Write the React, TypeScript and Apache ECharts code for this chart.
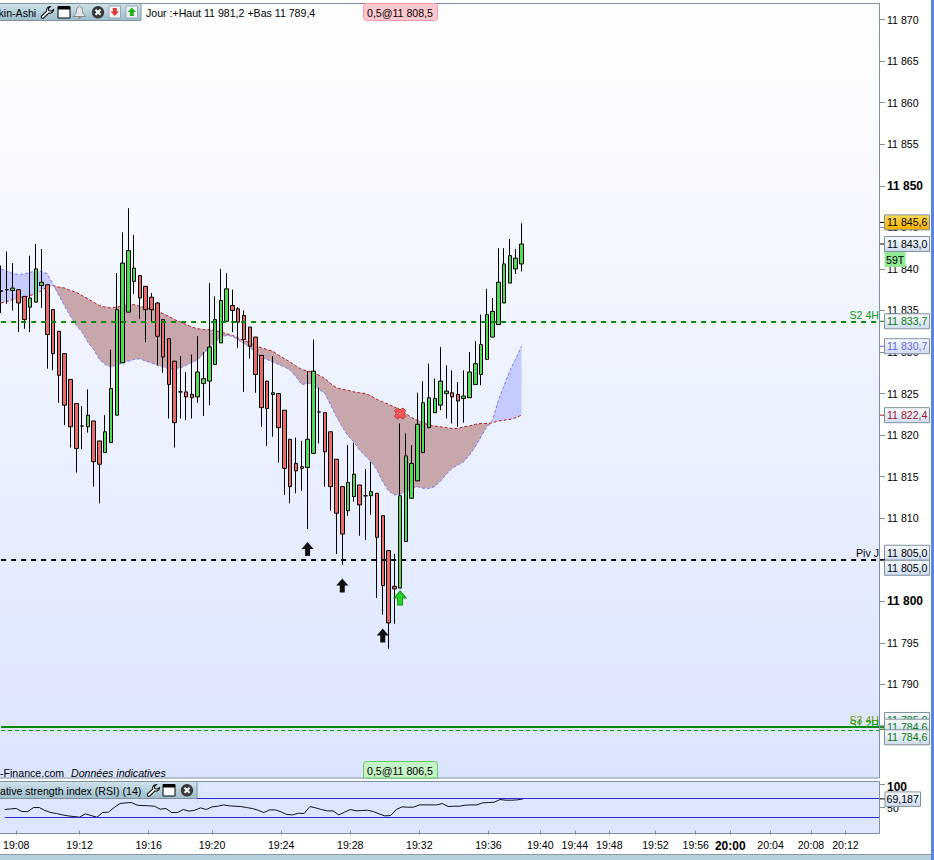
import React, { useEffect, useRef } from "react";
import * as echarts from "echarts";

const FONT = '"Liberation Sans", Arial, sans-serif';
const FS = 10.6;
const TICK_LABELS: Record<number, string> = {
  2: "19:08", 13: "19:12", 25: "19:16", 36: "19:20", 48: "19:24", 60: "19:28", 72: "19:32", 84: "19:36",
  93: "19:40", 99: "19:44", 105: "19:48", 113: "19:52", 120: "19:56", 126: "20:00", 133: "20:04", 140: "20:08", 146: "20:12",
};
const SLOT_COUNT = 153;
const categories = Array.from({ length: SLOT_COUNT }, (_, i) => TICK_LABELS[i] ?? `b${i}`);
const PRICE_TICKS = [11785, 11790, 11795, 11800, 11805, 11810, 11815, 11820, 11825, 11830, 11835, 11840, 11845, 11850, 11855, 11860, 11865, 11870];
const RSI_TICKS = [100, 50];

// open, close, low, high
const candles: number[][] = [
  [11837.4,11837.3,11834.7,11840.4],[11837.5,11837.5,11835.8,11842.1],[11837.4,11837.7,11835.0,11840.7],[11837.5,11835.9,11832.4,11837.5],
  [11836.7,11833.9,11832.8,11836.7],[11835.4,11836.5,11832.4,11841.6],[11836.0,11840.0,11836.0,11843.0],[11838.0,11838.4,11835.3,11842.4],
  [11838.1,11832.1,11828.0,11838.1],[11835.1,11829.8,11827.8,11835.1],[11832.5,11827.2,11823.9,11832.5],[11829.8,11823.6,11821.2,11829.8],
  [11826.7,11821.0,11818.5,11826.7],[11823.8,11818.4,11815.5,11823.8],[11821.1,11821.1,11818.3,11823.5],[11821.0,11822.4,11820.3,11825.5],
  [11821.7,11816.8,11813.8,11821.7],[11819.3,11816.5,11811.8,11819.3],[11817.9,11820.4,11817.9,11822.4],[11819.1,11825.6,11819.1,11830.3],
  [11822.4,11835.1,11822.4,11839.5],[11828.7,11840.7,11828.7,11844.4],[11834.8,11842.2,11834.8,11847.3],[11838.5,11840.1,11837.0,11844.1],
  [11839.2,11836.5,11834.0,11839.2],[11837.9,11835.1,11831.2,11837.9],[11836.6,11835.1,11833.7,11837.1],[11835.9,11831.9,11828.4,11836.0],
  [11833.9,11829.4,11827.5,11833.9],[11831.6,11826.1,11822.0,11831.6],[11828.9,11821.5,11818.5,11828.9],[11825.2,11825.2,11822.0,11829.5],
  [11825.2,11824.6,11821.8,11827.6],[11824.9,11824.5,11822.0,11829.7],[11824.6,11827.6,11823.9,11831.9],[11826.2,11826.8,11822.3,11830.0],
  [11826.5,11830.6,11823.6,11838.3],[11828.5,11833.9,11828.5,11836.7],[11831.1,11836.2,11831.1,11840.0],[11833.7,11837.6,11833.7,11839.5],
  [11835.6,11835.0,11832.4,11837.5],[11835.2,11833.6,11830.5,11835.4],[11834.4,11831.5,11825.2,11835.0],[11833.0,11830.7,11829.2,11833.0],
  [11831.8,11827.3,11825.1,11831.8],[11829.6,11823.3,11821.0,11829.6],[11826.5,11823.2,11818.7,11826.5],[11824.9,11825.1,11819.8,11829.5],
  [11825.0,11820.9,11816.7,11825.0],[11823.0,11816.0,11812.8,11823.0],[11819.5,11813.8,11811.8,11819.5],[11816.6,11815.7,11813.0,11819.7],
  [11816.2,11816.0,11813.3,11819.3],[11816.1,11819.5,11808.7,11827.7],[11817.8,11827.7,11817.8,11831.5],[11822.8,11822.8,11819.0,11825.7],
  [11822.7,11818.0,11813.8,11822.7],[11820.4,11813.8,11810.9,11820.4],[11817.1,11810.6,11805.7,11817.1],[11813.8,11808.1,11804.4,11813.8],
  [11810.9,11814.3,11810.3,11818.8],[11812.6,11815.3,11812.0,11819.1],[11814.0,11811.6,11807.9,11814.0],[11812.7,11812.7,11807.4,11815.9],
  [11812.7,11813.2,11810.4,11816.8],[11813.0,11807.7,11800.4,11813.0],[11810.3,11801.9,11798.4,11810.3],[11806.1,11797.4,11794.3,11806.1],
  [11801.8,11801.5,11797.3,11805.7],[11801.6,11812.7,11801.6,11821.4],[11807.2,11817.5,11807.2,11820.2],[11812.4,11816.6,11812.4,11818.8],
  [11814.5,11821.3,11814.5,11825.1],[11817.9,11823.9,11817.9,11826.5],[11820.9,11824.5,11820.9,11828.6],[11822.7,11824.4,11822.7,11826.8],
  [11823.6,11826.5,11823.0,11830.6],[11825.0,11825.3,11822.0,11828.4],[11825.1,11824.6,11821.4,11827.8],[11824.9,11824.1,11821.0,11826.4],
  [11824.4,11824.7,11821.5,11827.8],[11824.5,11827.6,11824.5,11830.0],[11826.1,11828.6,11826.1,11831.3],[11827.3,11830.9,11826.0,11834.5],
  [11829.1,11834.5,11829.1,11837.6],[11831.8,11834.9,11831.8,11836.5],[11833.3,11838.4,11833.3,11842.5],[11835.9,11840.6,11835.9,11842.5],
  [11838.3,11841.6,11838.3,11843.6],[11840.0,11841.3,11839.4,11842.4],[11840.6,11843.0,11839.7,11845.5],
];
const cloudRed = [
  11835.9,11836.1,11836.3,11836.5,11836.6,11836.8,11837.0,11837.4,11837.9,11838.0,11837.8,11837.7,11837.4,11837.2,11836.8,11836.4,
  11836.0,11835.6,11835.4,11835.3,11835.4,11835.6,11835.7,11835.7,11835.5,11835.4,11835.1,11835.0,11834.6,11834.3,11833.9,11833.6,
  11833.3,11833.0,11832.8,11832.7,11832.7,11832.6,11832.4,11832.2,11832.0,11831.7,11831.4,11831.1,11830.8,11830.5,11830.3,11830.1,
  11829.6,11829.2,11828.8,11828.3,11827.9,11827.7,11827.6,11827.2,11826.8,11826.2,11825.7,11825.5,11825.4,11825.2,11825.1,11825.0,
  11824.7,11824.3,11824.0,11823.7,11823.4,11823.0,11822.6,11822.1,11821.8,11821.5,11821.2,11821.1,11821.0,11820.9,11820.8,11820.8,
  11821.0,11821.1,11821.3,11821.4,11821.4,11821.5,11821.7,11821.8,11821.9,11822.1,11822.4,
];
const cloudBlue = [
  11840.0,11839.7,11839.5,11839.3,11839.4,11839.6,11839.7,11839.7,11839.4,11838.1,11836.8,11835.5,11834.3,11833.2,11832.4,11831.2,
  11830.3,11829.1,11828.5,11828.2,11828.4,11828.7,11828.9,11829.1,11829.2,11828.9,11828.7,11828.4,11828.2,11828.0,11828.0,11828.1,
  11828.4,11828.7,11829.1,11829.8,11830.5,11831.2,11831.8,11832.0,11831.9,11831.5,11831.0,11830.6,11829.9,11829.3,11829.1,11828.8,
  11828.5,11828.2,11827.8,11827.0,11826.1,11826.2,11826.2,11825.5,11825.0,11823.6,11822.2,11821.0,11819.9,11819.2,11818.2,11817.5,
  11816.8,11815.8,11814.4,11813.3,11812.8,11812.9,11813.2,11813.6,11813.8,11813.6,11813.6,11813.8,11814.5,11815.3,11816.0,11816.4,
  11816.8,11817.6,11818.6,11819.8,11821.0,11821.8,11824.2,11826.0,11827.8,11829.2,11830.7,
];
const rsiValues = [
  46.1,47.5,48.3,41.7,41.7,50.4,50.4,43.9,39.6,37.4,34.5,32.3,30.9,29.4,36.7,33.0,29.4,39.6,40.3,50.4,59.1,60.6,61.3,55.5,54.8,54.1,
  53.3,46.8,48.3,39.6,39.6,46.1,42.5,44.6,49.7,46.1,51.9,53.3,56.2,54.1,53.3,52.6,50.4,48.3,44.6,39.6,45.4,45.4,41.0,35.2,34.5,38.1,
  37.4,52.6,49.7,46.1,43.2,43.2,34.5,40.3,46.1,43.2,43.9,44.6,41.7,36.7,32.3,33.0,46.1,51.9,51.2,51.2,56.2,56.2,56.2,56.2,59.1,52.6,
  53.3,53.3,55.5,56.2,56.2,60.6,61.3,62.0,67.8,66.4,66.4,67.1,69.187,
];
const RSI_BANDS = [70, 30];
const blackArrows = [[53, 11806.3], [59, 11801.9], [66, 11795.9]];
const greenArrows = [[69, 11800.4]];
const exitMarks = [[69, 11822.6]];
const S2_4H = 11833.7, PIV_J = 11805.0, S3_4H = 11784.9, S1_2H = 11784.5;

const priceTags = [
  { value: 11845.6, text: "11 845,6" }, { value: 11843.0, text: "11 843,0" }, { value: 11833.7, text: "11 833,7" }, { value: 11830.7, text: "11 830,7" },
  { value: 11822.4, text: "11 822,4" }, { value: 11805.0, text: "11 805,0" }, { value: 11805.0, text: "11 805,0" },
  { value: 11785.0, text: "11 785,0" }, { value: 11784.8, text: "11 784,6" }, { value: 11784.6, text: "11 784,6" },
];
const tagStyle = [
  { c: "#000", t: "#000", top: "#ffd95a", bot: "#f2ae00", dy: 0 }, { c: "#000", t: "#000", top: "#f8fbff", bot: "#cfdcf0", dy: 0 },
  { c: "#0a7a0a", t: "#0a7a0a", top: "#f8fbff", bot: "#cfdcf0", dy: 0 }, { c: "#6464e6", t: "#6464e6", top: "#f8fbff", bot: "#cfdcf0", dy: 0 },
  { c: "#a01c1c", t: "#a01c1c", top: "#f8fbff", bot: "#cfdcf0", dy: 0 }, { c: "#000", t: "#000", top: "#f8fbff", bot: "#cfdcf0", dy: -7 },
  { c: "#000", t: "#000", top: "#f8fbff", bot: "#cfdcf0", dy: 8 }, { c: "#0a7a0a", t: "#0a7a0a", top: "#f8fbff", bot: "#cfdcf0", dy: -6 },
  { c: "#0a7a0a", t: "#0a7a0a", top: "#f8fbff", bot: "#cfdcf0", dy: -1 }, { c: "#0a7a0a", t: "#0a7a0a", top: "#f8fbff", bot: "#cfdcf0", dy: 8 },
];

echarts.graphic.registerShape(
  "wrench",
  echarts.graphic.extendPath("M9 0 C6.5 0 5 2 5.4 4.6 L0.4 9.6 C-0.4 10.6 1.4 12.4 2.4 11.6 L7.4 6.6 C10 7 12 5.5 12 3 L9.8 4.8 L7.4 4.2 L7.2 2 Z", {}) as any
);

const gradient = (a: string, b: string) => new echarts.graphic.LinearGradient(0, 0, 0, 1, [{ offset: 0, color: a }, { offset: 1, color: b }]);

function toolIcons(x: number[], y: number, withBell: boolean, withBoxes: boolean) {
  const out: any[] = [];
  const z = 20;
  out.push({ type: "wrench", x: x[0], y, scaleX: 1.05, scaleY: 1, z, style: { fill: "#fff", stroke: "#000", lineWidth: 1 } });
  out.push({ type: "rect", shape: { x: x[1], y, width: 12, height: 11.5 }, z, style: { fill: "#fff", stroke: "#000", lineWidth: 1 } });
  out.push({ type: "rect", shape: { x: x[1], y, width: 12, height: 3 }, z, style: { fill: "#000" } });
  if (withBell) {
    out.push({ type: "polygon", shape: { points: [[79.5, y - 0.5], [82, y + 1.5], [83, y + 7], [86, y + 10], [73, y + 10], [76, y + 7], [77, y + 1.5]] }, z, style: { fill: "#e6e6e6", stroke: "#8c8c8c", lineWidth: 1 } });
    out.push({ type: "circle", shape: { cx: 79.5, cy: y + 11, r: 1.4 }, z, style: { fill: "#8c8c8c" } });
  }
  const cx = x[2] + 6;
  const cy = y + 5.8;
  out.push({ type: "circle", shape: { cx, cy, r: 6.2 }, z, style: { fill: "#3a3a3a" } });
  out.push({ type: "line", shape: { x1: cx - 2.5, y1: cy - 2.5, x2: cx + 2.5, y2: cy + 2.5 }, z, style: { stroke: "#fff", lineWidth: 2 } });
  out.push({ type: "line", shape: { x1: cx + 2.5, y1: cy - 2.5, x2: cx - 2.5, y2: cy + 2.5 }, z, style: { stroke: "#fff", lineWidth: 2 } });
  if (withBoxes) {
    out.push({ type: "rect", shape: { x: 109, y: y - 0.5, width: 11.5, height: 12 }, z, style: { fill: "#f4f4f4", stroke: "#8fa6b4", lineWidth: 1 } });
    out.push({ type: "polygon", shape: { points: [[112.8, y + 1.5], [116.8, y + 1.5], [116.8, y + 5], [119, y + 5], [114.8, y + 9.5], [110.5, y + 5], [112.8, y + 5]] }, z, style: { fill: "#e23a3a" } });
    out.push({ type: "rect", shape: { x: 126, y: y - 0.5, width: 11.5, height: 12 }, z, style: { fill: "#f4f4f4", stroke: "#8fa6b4", lineWidth: 1 } });
    out.push({ type: "polygon", shape: { points: [[131.8, y + 1], [136, y + 5.5], [133.8, y + 5.5], [133.8, y + 9.5], [129.8, y + 9.5], [129.8, y + 5.5], [127.5, y + 5.5]] }, z, style: { fill: "#25b025" } });
  }
  return out;
}

function pageGraphics() {
  const frame = "#7f919f";
  const label = (text: string, x: number, y: number, extra: any = {}) => ({
    type: "text", x, y, z: 21,
    style: { text, fill: "#000", font: `${FS}px ${FONT}`, textVerticalAlign: "middle", ...extra },
  });
  return [
    { type: "rect", z: -10, shape: { x: 0, y: 3, width: 880, height: 775 }, style: { fill: new echarts.graphic.LinearGradient(0, 0, 0, 1, [{ offset: 0, color: "#ffffff" }, { offset: 0.3, color: "#f4f7ff" }, { offset: 0.7, color: "#e6edff" }, { offset: 1, color: "#dbe4ff" }]) } },
    { type: "rect", z: -10, shape: { x: 0, y: 781, width: 880, height: 52 }, style: { fill: "#dde6ff" } },
    { type: "polyline", z: 15, shape: { points: [[0, 3.5], [879.5, 3.5], [879.5, 778], [0, 778]] }, style: { fill: "none", stroke: frame, lineWidth: 1 } },
    { type: "polyline", z: 15, shape: { points: [[0, 781.5], [879.5, 781.5], [879.5, 833.5], [0, 833.5]] }, style: { fill: "none", stroke: frame, lineWidth: 1 } },
    { type: "rect", z: 15, shape: { x: 0, y: 854, width: 931, height: 6 }, style: { fill: "#b4d0dc" } },
    { type: "line", z: 15, shape: { x1: 0, y1: 854.5, x2: 931, y2: 854.5 }, style: { stroke: "#8a9ba6", lineWidth: 1 } },
    { type: "rect", z: 16, shape: { x: 931, y: 0, width: 3, height: 860 }, style: { fill: "#5b86e3" } },
    // top tab
    { type: "rect", z: 19, shape: { x: -2, y: 3.5, width: 143, height: 17 }, style: { fill: gradient("#cfe2ea", "#9dbccb"), stroke: frame, lineWidth: 1 } },
    label("kin-Ashi", -1.5, 12.5),
    ...toolIcons([41, 58, 92], 6.5, true, true),
    label("Jour :+Haut 11 981,2 +Bas 11 789,4", 146, 12.5),
    { type: "rect", z: 19, shape: { x: 363.5, y: 3.5, width: 74, height: 17, r: 3 }, style: { fill: "#ffc8d0", stroke: "#f29aa8", lineWidth: 1 } },
    label("0,5@11 808,5", 367, 12.5),
    // bottom notes
    label("-Finance.com", 0, 772.5),
    label("Données indicatives", 71, 772.5, { font: `italic ${FS}px ${FONT}` }),
    { type: "rect", z: 19, shape: { x: 363.5, y: 761.5, width: 74, height: 16.5, r: [3, 3, 0, 0] }, style: { fill: "#c6f3c6", stroke: "#63c963", lineWidth: 1 } },
    label("0,5@11 806,5", 367, 770.5),
    // RSI tab
    { type: "rect", z: 19, shape: { x: -2, y: 781.5, width: 199, height: 17 }, style: { fill: gradient("#cfe2ea", "#9dbccb"), stroke: frame, lineWidth: 1 } },
    label("ative strength index (RSI) (14)", 0, 790.5),
    ...toolIcons([147, 163, 181], 784.5, false, false),
    // 59T
    { type: "rect", z: 19, shape: { x: 884.5, y: 252, width: 21, height: 15 }, style: { fill: "#93e893" } },
    label("59T", 886, 260),
  ];
}

function renderCloud(_p: any, api: any) {
  const toPt = (i: number, v: number) => api.coord([i, v]);
  const children: any[] = [];
  let upper: number[][] = [];
  let lower: number[][] = [];
  let sign = Math.sign(cloudRed[0] - cloudBlue[0]);
  const flush = () => {
    if (upper.length > 1) {
      children.push({
        type: "polygon",
        shape: { points: [...upper, ...lower.slice().reverse()] },
        style: { fill: sign > 0 ? "#c8a7ac" : "#c6cbfd" },
      });
    }
  };
  upper.push(toPt(0, cloudRed[0]));
  lower.push(toPt(0, cloudBlue[0]));
  for (let i = 1; i < cloudRed.length; i++) {
    const s = Math.sign(cloudRed[i] - cloudBlue[i]) || sign;
    if (s !== sign) {
      const d0 = cloudRed[i - 1] - cloudBlue[i - 1];
      const d1 = cloudRed[i] - cloudBlue[i];
      const t = d0 / (d0 - d1);
      const cross = toPt(i - 1 + t, cloudRed[i - 1] + (cloudRed[i] - cloudRed[i - 1]) * t);
      upper.push(cross);
      lower.push(cross);
      flush();
      upper = [cross];
      lower = [cross];
      sign = s;
    }
    upper.push(toPt(i, cloudRed[i]));
    lower.push(toPt(i, cloudBlue[i]));
  }
  flush();
  return { type: "group", children };
}

function renderPriceTag(p: any, api: any) {
  const s = tagStyle[p.dataIndex];
  const tag = priceTags[p.dataIndex];
  const y = api.coord([0, tag.value])[1];
  const cy = y + s.dy;
  return {
    type: "group",
    children: [
      { type: "line", shape: { x1: 880, y1: y, x2: 885, y2: y }, style: { stroke: s.c, lineWidth: 1 } },
      { type: "rect", shape: { x: 884.5, y: cy - 7.5, width: 45, height: 15 }, style: { fill: gradient(s.top, s.bot), stroke: "#7f919f", lineWidth: 1 } },
      { type: "text", x: 887, y: cy, style: { text: tag.text, fill: s.t, font: `${FS}px ${FONT}`, textVerticalAlign: "middle" } },
    ],
  };
}

function renderRsiTag(_p: any, api: any) {
  const y = api.coord([0, rsiValues[rsiValues.length - 1]])[1];
  return {
    type: "group",
    children: [
      { type: "line", shape: { x1: 880, y1: y, x2: 885, y2: y }, style: { stroke: "#000", lineWidth: 1 } },
      { type: "rect", shape: { x: 885, y: y - 7, width: 35.5, height: 14.5 }, style: { fill: gradient("#f8fbff", "#cfdcf0"), stroke: "#7f919f", lineWidth: 1 } },
      { type: "text", x: 886.5, y: y, style: { text: "69,187", fill: "#000", font: `${FS}px ${FONT}`, textVerticalAlign: "middle" } },
    ],
  };
}

const level = (value: number, color: string, labelColor: string, name: string, type: any, width: number) => ({
  yAxis: value,
  symbol: "none",
  lineStyle: { color, type, width },
  label: { show: true, formatter: name, position: "insideEndTop", distance: 1, color: labelColor, fontSize: FS, fontFamily: FONT },
});

const arrowPath = "path://M6 0 L12 7 L8.5 7 L8.5 14 L3.5 14 L3.5 7 L0 7 Z";
const crossPath = "path://M3 0 L6 2 L9 0 L12 3 L10 6 L12 9 L9 12 L6 10 L3 12 L0 9 L2 6 L0 3 Z";
const showTick = (i: number) => TICK_LABELS[i] !== undefined;

export default function App() {
  const ref = useRef<HTMLDivElement>(null);
  useEffect(() => {
    const chart = echarts.init(ref.current!, undefined, { renderer: "svg" });
    const priceFmt = (v: number) => {
      const s = `${Math.floor(v / 1000)} ${String(v % 1000).padStart(3, "0")}`;
      return v % 50 === 0 ? `{b|${s}}` : s;
    };
    chart.setOption({
      animation: false,
      backgroundColor: "#fff",
      textStyle: { fontFamily: FONT },
      graphic: pageGraphics(),
      grid: [
        { left: 1.14, top: 3.5, width: 878.86, height: 774.5 },
        { left: 1.14, top: 781.5, width: 878.86, height: 52 },
      ],
      xAxis: [
        { type: "category", gridIndex: 0, data: categories, boundaryGap: false, show: false },
        {
          type: "category", gridIndex: 1, data: categories, boundaryGap: false,
          axisLine: { show: false },
          axisTick: { show: true, interval: showTick, length: 4, lineStyle: { color: "#7f919f" } },
          axisLabel: {
            interval: showTick, margin: 6, color: "#000", fontSize: FS, fontFamily: FONT,
            formatter: (v: string) => (v === "20:00" ? `{b|${v}}` : v),
            rich: { b: { fontWeight: "bold", fontSize: 12, fontFamily: FONT, color: "#000" } },
          },
        },
      ],
      yAxis: [
        {
          type: "value", gridIndex: 0, position: "right", min: 11778.74, max: 11871.94, scale: true,
          splitLine: { show: false }, axisLine: { show: false },
          axisTick: { show: true, length: 5, customValues: PRICE_TICKS, lineStyle: { color: "#7f919f" } },
          axisLabel: {
            customValues: PRICE_TICKS, margin: 7, color: "#000", fontSize: FS, fontFamily: FONT, formatter: priceFmt,
            rich: { b: { fontWeight: "bold", fontSize: 12, fontFamily: FONT, color: "#000" } },
          },
        },
        {
          type: "value", gridIndex: 1, position: "right", min: -6, max: 107,
          splitLine: { show: false }, axisLine: { show: false },
          axisTick: { show: true, length: 5, customValues: RSI_TICKS, lineStyle: { color: "#7f919f" } },
          axisLabel: {
            customValues: RSI_TICKS, margin: 7, color: "#000", fontSize: FS, fontFamily: FONT,
            formatter: (v: number) => (v === 100 ? `{b|${v}}` : `${v}`),
            rich: { b: { fontWeight: "bold", fontSize: 12, padding: [4, 0, 0, 0], fontFamily: FONT, color: "#000" } },
          },
        },
      ],
      series: [
        { type: "custom", name: "cloud", z: 1, silent: true, renderItem: renderCloud, data: [[0, cloudRed[0]]], encode: { x: 0, y: 1 } },
        { type: "line", name: "Cloud upper", z: 1.5, silent: true, data: cloudRed, showSymbol: false, lineStyle: { color: "#b71c1c", width: 1, type: [3, 2] } },
        { type: "line", name: "Cloud lower", z: 1.5, silent: true, data: cloudBlue, showSymbol: false, lineStyle: { color: "#7878f0", width: 1, type: [3, 2] } },
        {
          type: "candlestick", name: "Heikin-Ashi", z: 2, data: candles, barWidth: 4, silent: true,
          itemStyle: { color: "#52d852", color0: "#e96a6a", borderColor: "#000", borderColor0: "#000", borderColorDoji: "#000", borderWidth: 1 },
        },
        {
          type: "line", name: "levels", z: 3, silent: true, data: [],
          markLine: {
            silent: true, symbol: "none", animation: false,
            data: [
              level(S2_4H, "#0a860a", "#0a960a", "S2 4H", [5, 5], 2),
              level(PIV_J, "#000", "#000", "Piv J", [5, 5], 2),
              level(S3_4H, "#0a860a", "#6f9c00", "S3 4H", "solid", 2),
              level(S1_2H, "#0a960a", "#0a960a", "S1 2H", [4, 3], 1),
            ],
          },
        },
        { type: "scatter", name: "Signals", z: 4, silent: true, data: blackArrows, symbol: arrowPath, symbolSize: [12, 14], itemStyle: { color: "#111", opacity: 1 } },
        { type: "scatter", name: "Buy", z: 4, silent: true, data: greenArrows, symbol: arrowPath, symbolSize: [12, 14], itemStyle: { color: "#2fd02f", borderColor: "#0a960a", borderWidth: 1, opacity: 1 } },
        { type: "scatter", name: "Exit", z: 4, silent: true, data: exitMarks, symbol: crossPath, symbolSize: 11, itemStyle: { color: "#ee5a5a", borderColor: "#c43030", borderWidth: 1, opacity: 1 } },
        { type: "custom", name: "price tags", z: 6, silent: true, renderItem: renderPriceTag, data: priceTags.map((t) => [0, t.value]), encode: { x: 0, y: 1 } },
        {
          type: "line", name: "RSI", xAxisIndex: 1, yAxisIndex: 1, z: 3, silent: true, data: rsiValues, showSymbol: false,
          lineStyle: { color: "#111", width: 1 },
          markLine: {
            silent: true, symbol: "none", animation: false,
            data: RSI_BANDS.map((b) => ({ yAxis: b, lineStyle: { color: "#2a2ad0", width: 1, type: "solid" }, label: { show: false } })),
          },
        },
        { type: "custom", name: "rsi tag", xAxisIndex: 1, yAxisIndex: 1, z: 6, silent: true, renderItem: renderRsiTag, data: [[0, rsiValues[rsiValues.length - 1]]], encode: { x: 0, y: 1 } },
      ],
    });
    return () => chart.dispose();
  }, []);
  return <div ref={ref} style={{ position: "absolute", left: 0, top: 0, width: 934, height: 860 }} />;
}
